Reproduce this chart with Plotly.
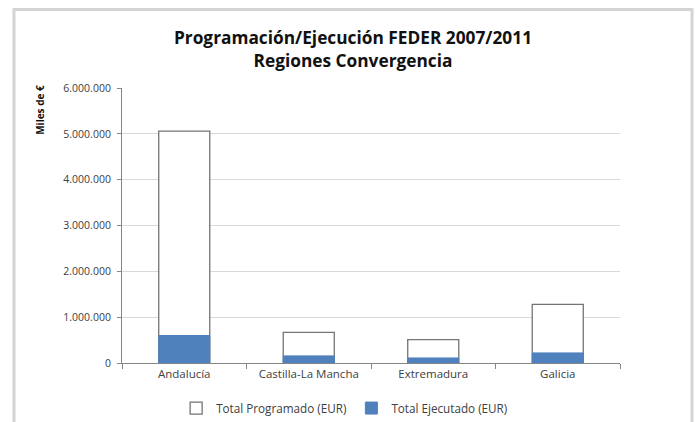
import plotly.graph_objects as go

regiones = ['Andalucía', 'Castilla-La Mancha', 'Extremadura', 'Galicia']
programado = [5060000, 670000, 510000, 1280000]
ejecutado = [600000, 155000, 110000, 220000]

fig = go.Figure()

# barras superpuestas: programado detrás, ejecutado delante
fig.add_trace(go.Bar(x=regiones, y=programado, name='Total Programado (EUR)',
                     width=0.41,
                     marker=dict(color='white', line=dict(color='#747474', width=1.3))))
fig.add_trace(go.Bar(x=regiones, y=ejecutado, name='Total Ejecutado (EUR)',
                     width=0.41,
                     marker=dict(color='#4f81bd', line=dict(color='#4f81bd', width=1))))

fig.update_layout(
    width=699, height=422,
    barmode='overlay',
    separators=',.',
    font=dict(family='Open Sans', color='#404040', size=10.5),
    title=dict(text='Programación/Ejecución FEDER 2007/2011<br>Regiones Convergencia',
               x=0.505, xanchor='center', y=0.895, yanchor='middle',
               font=dict(family='Open Sans', size=17.3, color='#111111', weight='bold')),
    margin=dict(l=122, r=79, t=88, b=59),
    paper_bgcolor='white', plot_bgcolor='white',
    legend=dict(orientation='h', xref='container', x=0.252, xanchor='left',
                yref='container', y=0.033, yanchor='middle',
                font=dict(size=11.7), itemwidth=30, traceorder='normal'),
    showlegend=True,
)

fig.update_yaxes(range=[0, 6000000], dtick=1000000, tickformat=',d',
                 gridcolor='#d9d9d9', showline=True, linecolor='#868686',
                 ticks='outside', ticklen=4, tickcolor='#868686', zeroline=False,
                 ticklabelstandoff=4)
fig.update_xaxes(showline=True, linecolor='#868686', ticks='outside', ticklen=5,
                 tickcolor='#868686', tickson='boundaries', tickfont=dict(size=11.5))

# etiqueta eje y
fig.add_annotation(text='<b>Miles de €</b>', xref='paper', yref='paper',
                   x=-0.165, xanchor='center', y=0.92, yanchor='middle',
                   textangle=-90, showarrow=False,
                   font=dict(size=10, color='#111111'))

# borde del gráfico
fig.add_shape(type='rect', xref='paper', yref='paper',
              x0=-0.2169, x1=1.1446, y0=-0.23, y1=1.2855,
              line=dict(color='#d4d4d4', width=3), layer='below')

fig.write_html('out.html', config={'displayModeBar': False},
               post_script="document.body.style.margin='0';")
